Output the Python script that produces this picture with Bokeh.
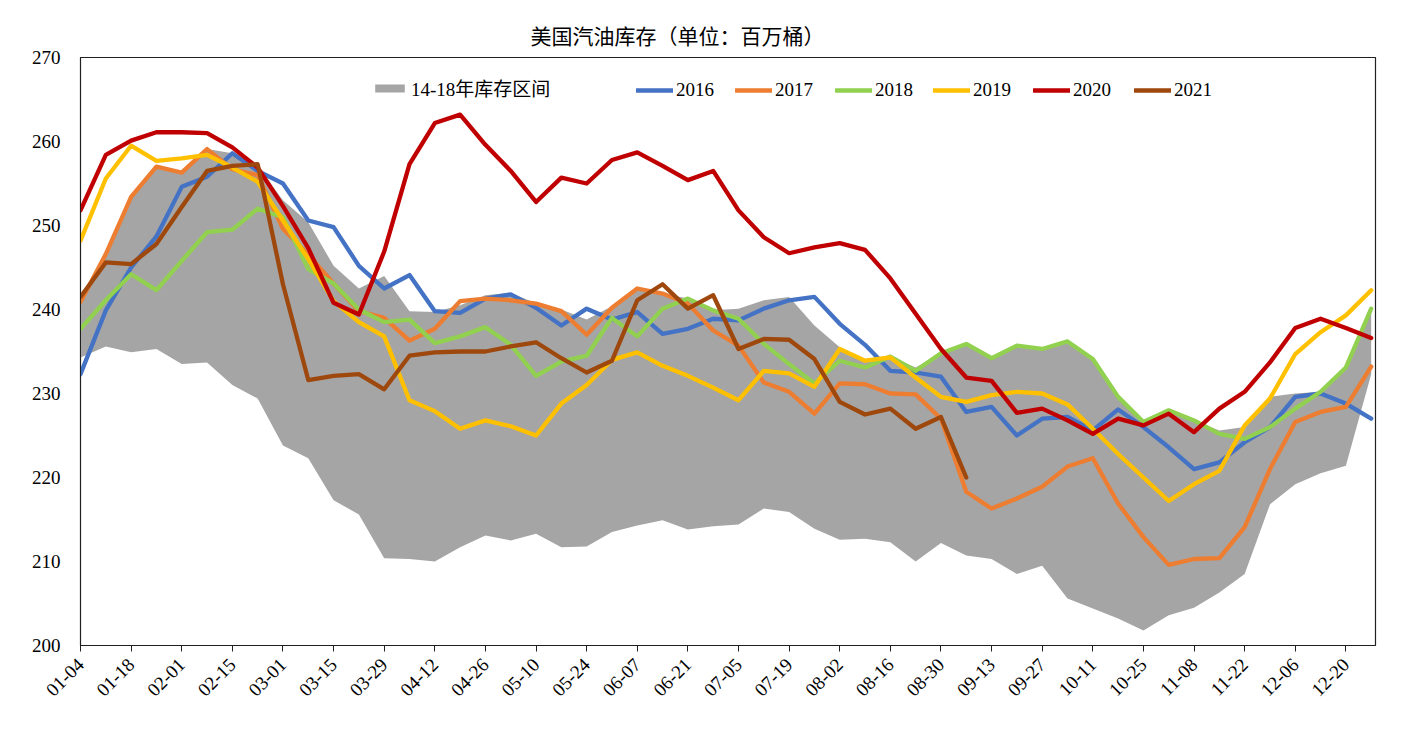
import math
from bokeh.plotting import figure
from bokeh.models import Legend, LegendItem, FixedTicker, Range1d
from bokeh.embed import file_html
from bokeh.resources import INLINE

weeks = ["01-04", "01-11", "01-18", "01-25", "02-01", "02-08", "02-15", "02-22",
         "03-01", "03-08", "03-15", "03-22", "03-29", "04-05", "04-12", "04-19",
         "04-26", "05-03", "05-10", "05-17", "05-24", "05-31", "06-07", "06-14",
         "06-21", "06-28", "07-05", "07-12", "07-19", "07-26", "08-02", "08-09",
         "08-16", "08-23", "08-30", "09-06", "09-13", "09-20", "09-27", "10-04",
         "10-11", "10-18", "10-25", "11-01", "11-08", "11-15", "11-22", "11-29",
         "12-06", "12-13", "12-20", "12-27"]

band_low = [234.3, 235.6, 234.9, 235.3, 233.5, 233.7, 231.0, 229.4, 223.8, 222.3,
            217.3, 215.6, 210.4, 210.3, 210.0, 211.7, 213.1, 212.5, 213.3, 211.7,
            211.8, 213.5, 214.3, 214.9, 213.8, 214.2, 214.4, 216.3, 215.9, 213.9,
            212.6, 212.7, 212.3, 210.0, 212.2, 210.7, 210.3, 208.5, 209.5, 205.6,
            204.4, 203.2, 201.8, 203.6, 204.5, 206.3, 208.5, 216.8, 219.2, 220.5,
            221.4, 232.3]
band_high = [241.0, 246.6, 253.4, 257.0, 256.3, 259.1, 258.6, 257.1, 253.0, 250.4,
             245.2, 242.5, 244.0, 239.8, 239.7, 240.5, 241.7, 242.0, 240.7, 240.0,
             238.8, 240.4, 242.5, 241.9, 241.3, 239.9, 240.1, 241.1, 241.5, 238.1,
             235.5, 233.9, 234.4, 233.1, 234.8, 235.9, 234.2, 235.7, 235.3, 236.2,
             234.1, 229.6, 226.6, 228.0, 226.8, 225.6, 226.0, 229.6, 230.0, 230.2,
             233.1, 240.1]

s2016 = [232.3, 239.9, 245.0, 248.7, 254.6, 255.8, 258.6, 256.5, 255.0, 250.6,
         249.8, 245.2, 242.5, 244.1, 239.8, 239.6, 241.3, 241.8, 240.2, 238.1,
         240.1, 238.8, 239.7, 237.1, 237.7, 238.9, 238.7, 240.1, 241.1, 241.5,
         238.3, 235.8, 232.7, 232.5, 232.0, 227.8, 228.4, 225.0, 227.0, 227.2,
         225.6, 228.1, 226.0, 223.6, 221.0, 221.8, 224.2, 226.0, 229.6, 230.0,
         228.8, 227.0]
s2017 = [240.9, 246.6, 253.4, 257.0, 256.3, 259.1, 256.7, 256.0, 249.6, 246.5,
         243.1, 239.8, 239.0, 236.3, 237.7, 241.0, 241.3, 241.1, 240.7, 239.8,
         237.0, 240.2, 242.5, 241.9, 240.7, 237.5, 235.7, 231.3, 230.2, 227.6,
         231.2, 231.1, 230.0, 229.9, 227.0, 218.3, 216.3, 217.5, 218.9, 221.3,
         222.3, 216.9, 212.9, 209.6, 210.3, 210.4, 214.1, 221.0, 226.6, 227.8,
         228.4, 233.2]
s2018 = [237.7, 241.1, 244.2, 242.3, 245.8, 249.2, 249.5, 252.0, 251.0, 244.8,
         243.1, 240.0, 238.5, 238.8, 236.0, 236.8, 237.9, 235.8, 232.1, 233.8,
         234.5, 239.0, 236.8, 240.1, 241.3, 239.9, 238.9, 235.9, 233.5, 231.2,
         233.9, 233.1, 234.4, 232.7, 234.8, 235.9, 234.2, 235.7, 235.3, 236.2,
         234.1, 229.6, 226.6, 228.0, 226.8, 225.2, 224.6, 226.0, 228.2, 230.2,
         233.1, 240.1]
s2019 = [248.2, 255.6, 259.5, 257.7, 258.0, 258.4, 256.9, 255.2, 250.6, 246.0,
         241.0, 238.5, 236.8, 229.2, 227.9, 225.8, 226.8, 226.1, 225.0, 228.8,
         231.0, 234.0, 234.9, 233.3, 232.1, 230.7, 229.2, 232.7, 232.4, 230.8,
         235.3, 233.9, 234.3, 231.9, 229.6, 229.0, 229.8, 230.2, 230.0, 228.7,
         225.8, 222.8, 220.0, 217.2, 219.2, 220.8, 226.2, 229.4, 234.7, 237.3,
         239.3, 242.3]
s2020 = [251.8, 258.4, 260.1, 261.1, 261.1, 261.0, 259.3, 256.9, 252.3, 247.3,
         240.8, 239.4, 246.9, 257.3, 262.2, 263.2, 259.6, 256.5, 252.8, 255.7,
         255.0, 257.8, 258.7, 257.1, 255.4, 256.5, 251.8, 248.6, 246.7, 247.4,
         247.9, 247.1, 243.7, 239.5, 235.3, 231.9, 231.5, 227.7, 228.2, 226.8,
         225.2, 227.0, 226.2, 227.6, 225.4, 228.2, 230.2, 233.7, 237.8, 238.9,
         237.8, 236.6]
s2021 = [241.5, 245.6, 245.4, 247.8, 252.2, 256.5, 257.1, 257.3, 243.0, 231.6,
         232.1, 232.3, 230.5, 234.5, 234.9, 235.0, 235.0, 235.6, 236.1, 234.2,
         232.5, 233.9, 241.1, 243.0, 240.1, 241.7, 235.3, 236.5, 236.4, 234.1,
         229.0, 227.5, 228.2, 225.8, 227.2, 220.0]

y_ticks = [200, 210, 220, 230, 240, 250, 260, 270]
title_text = "美国汽油库存（单位：百万桶）"
band_label = "14-18年库存区间"
series_names = ["2016", "2017", "2018", "2019", "2020", "2021"]
series_colors = ["#4472C4", "#ED7D31", "#92D050", "#FFC000", "#C00000", "#9E480E"]
band_color = "#A5A5A5"

idx = list(range(len(weeks)))
label_ticks = idx[::2]

SERIF = "'Liberation Serif', 'Noto Sans CJK SC'"

p = figure(frame_width=1295, frame_height=588, output_backend="svg",
           toolbar_location=None,
           x_range=Range1d(0, len(weeks) - 1 + 0.17), y_range=Range1d(200, 270),
           min_border_left=80, min_border_right=41, min_border_top=57,
           min_border_bottom=89)
p.background_fill_color = "white"
p.border_fill_color = "white"
p.outline_line_color = "#202020"
p.outline_line_width = 1.2
p.xgrid.visible = False
p.ygrid.visible = False

p.title.text = title_text
p.title.align = "left"
p.title.offset = 450
p.title.text_font = "'Noto Sans CJK SC'"
p.title.text_font_size = "21px"
p.title.text_font_style = "normal"
p.title.text_color = "#000000"
p.title.standoff = 16

band = p.varea(x=idx, y1=band_low, y2=band_high, fill_color=band_color)

lines = []
for name, color, data in zip(series_names, series_colors,
                             [s2016, s2017, s2018, s2019, s2020, s2021]):
    r = p.line(x=idx[:len(data)], y=data, line_color=color, line_width=4.3,
               line_join="round", line_cap="round")
    lines.append(r)

# axes
p.xaxis.ticker = FixedTicker(ticks=label_ticks)
p.xaxis.major_label_overrides = {i: weeks[i] for i in label_ticks}
p.xaxis.major_label_orientation = math.pi / 4
p.xaxis.minor_tick_line_color = None
p.xaxis.major_tick_in = 0
p.xaxis.major_tick_out = 6
p.xaxis.major_label_standoff = 10
p.xaxis.major_label_text_font = SERIF
p.xaxis.major_label_text_font_size = "19px"
p.xaxis.major_label_text_color = "#000000"
p.xaxis.axis_line_color = "#202020"
p.xaxis.major_tick_line_color = "#202020"

p.yaxis.ticker = FixedTicker(ticks=y_ticks)
p.yaxis.minor_tick_line_color = None
p.yaxis.major_tick_line_color = None
p.yaxis.major_label_standoff = 14
p.yaxis.major_label_text_font = SERIF
p.yaxis.major_label_text_font_size = "19px"
p.yaxis.major_label_text_color = "#000000"
p.yaxis.axis_line_color = "#202020"

# legends, one per item, placed individually
leg_x = [291, 556, 655, 755, 853, 953, 1054]
renderers = [band] + lines
labels = [band_label] + series_names
for k, (r, lab) in enumerate(zip(renderers, labels)):
    lg = Legend(items=[LegendItem(label=lab, renderers=[r])],
                location=(leg_x[k], 544), orientation="horizontal",
                padding=0, margin=0, spacing=0,
                border_line_color=None, background_fill_alpha=0,
                glyph_width=37, glyph_height=10 if k == 0 else 20,
                label_standoff=3, label_text_font=SERIF,
                label_text_font_size="19px", label_text_color="#000000",
                label_height=20)
    p.add_layout(lg, "center")

open("out.html", "w").write(file_html(p, INLINE))
